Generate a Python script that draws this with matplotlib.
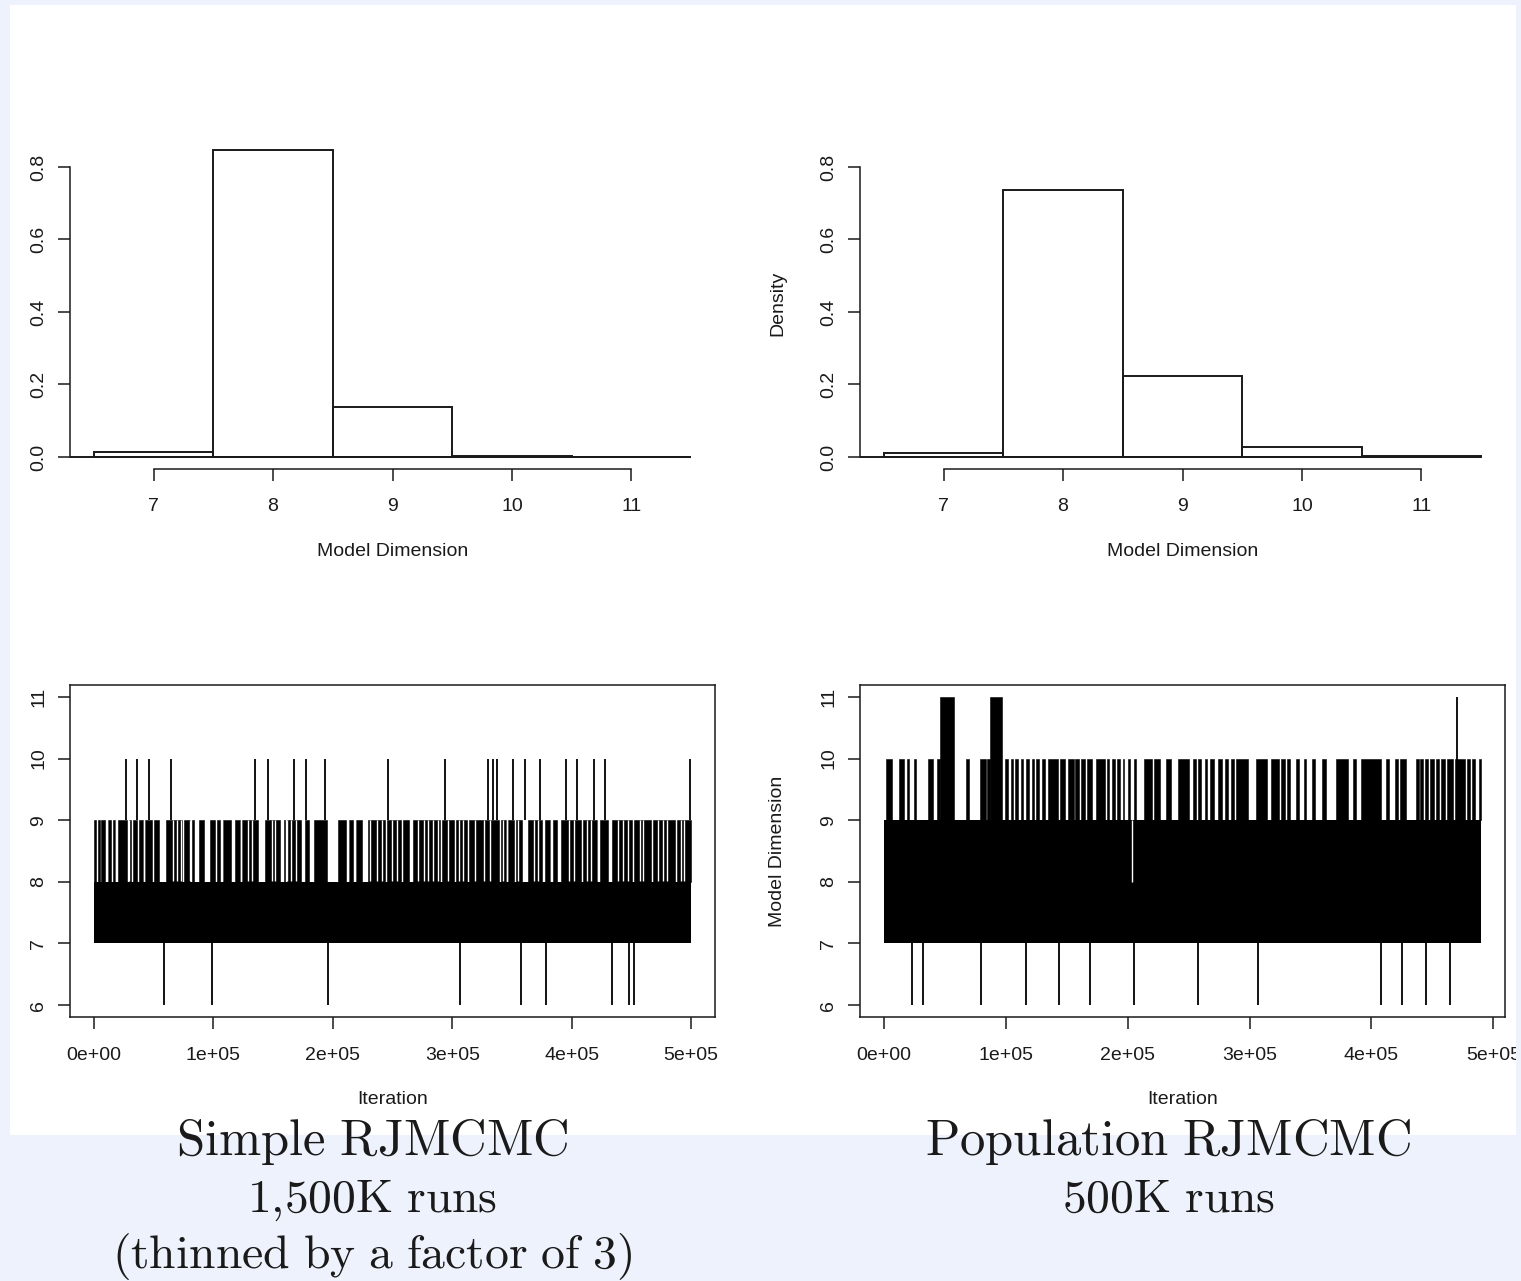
import numpy as np
import matplotlib.pyplot as plt
from matplotlib.patches import Rectangle

plt.rcParams['font.family'] = ['Liberation Sans', 'DejaVu Sans']
plt.rcParams['mathtext.fontset'] = 'cm'

# ---- values ----
dims = [7, 8, 9, 10, 11]
dens_simple = [0.015, 0.848, 0.137, 0.002, 0.0004]
dens_pop = [0.012, 0.737, 0.222, 0.027, 0.003]

x_ticks = [0, 100000, 200000, 300000, 400000, 500000]
x_ticklabels = ['0e+00', '1e+05', '2e+05', '3e+05', '4e+05', '5e+05']
y_ticks_trace = [6, 7, 8, 9, 10, 11]
y_ticks_hist = [0.0, 0.2, 0.4, 0.6, 0.8]

# simple RJMCMC trace, iterations in thousands
simple_end = 500
simple_base = (7, 8)          # chain flips between these all the time
simple_visits9 = [(0, 1.6), (3.2, 4.8), (5.8, 9.7), (12, 14), (16, 18), (20.5, 27.8),
                  (29, 31), (32.7, 36), (37.6, 40.9), (42.5, 49), (50.7, 54.6),
                  (60.5, 73.6), (75.2, 80.2), (81.8, 84), (88.3, 92.6), (97.2, 101.4),
                  (103, 105.7), (108, 114.5), (117.8, 122.7), (124.4, 137.5),
                  (143, 155.5), (158.8, 160.4), (162, 173.5), (176.8, 180),
                  (184.3, 195.4), (204.6, 211.2), (213.8, 217), (219.3, 224.3),
                  (229.2, 244), (245.5, 257), (258.6, 263.6), (266.8, 289.8),
                  (291.4, 301.2), (302.9, 312.7), (314.3, 338.9), (340.5, 345.4),
                  (347, 352), (353.6, 358.5), (363.4, 374.9), (377.5, 381.5),
                  (384, 388), (391.3, 407.6), (409.3, 420.8), (424, 430.6),
                  (433.9, 450.2), (451.9, 466.6), (468.2, 486.2), (487.9, 500)]
# thin white slivers inside the 8-9 band
simple_gaps89 = [10.7, 18.9, 29.4, 41.8, 66.4, 69.7, 72.9, 80.8, 86.7, 107, 123.4,
                 129.3, 132.6, 148.9, 151.5, 161.4, 165.3, 169.2, 182.3, 198.7,
                 212.8, 218.4, 226.9, 231.5, 237.4, 241.3, 249.8, 253.7, 271.7,
                 276, 279.9, 283.9, 288.1, 296.3, 305.5, 309.4, 319.2, 326.4,
                 331.7, 342.8, 346.1, 355.3, 368.4, 371.6, 383.1, 389.6, 397.8,
                 401.8, 412.6, 415.8, 422.4, 438.8, 443, 447, 456.8, 460.1, 472.5,
                 476.4, 479.7, 491.2, 494.4]
simple_spikes10 = [26.7, 35.9, 46.4, 64.4, 135.2, 146, 167.6, 177.4, 193.8, 246.6,
                   293.7, 329.7, 334, 337.3, 351.3, 360.8, 373.3, 394.9, 404.4,
                   418.5, 428, 499.4]
simple_spikes6 = [58.9, 98.6, 196.2, 306.5, 357.6, 378.6, 433.8, 448, 452.2]

# population RJMCMC trace, iterations in thousands
pop_end = 490
pop_base = (7, 9)
pop_visits10 = [(1.5, 6.3), (12.7, 16.9), (19.2, 20.8), (24.6, 26.5), (36.2, 40),
                (43.2, 45.8), (67.3, 69.6), (78.6, 83.4), (85, 87.2), (99.4, 102),
                (104.2, 105.8), (107.5, 109.7), (112.3, 113.9), (116.4, 118.7),
                (121.9, 123.5), (125.1, 127.4), (130, 132.5), (134.7, 142.8),
                (144.4, 148.6), (150.8, 155.6), (157.2, 160.4), (162, 165.2),
                (166.9, 171), (174.2, 181.3), (182.9, 184.5), (187.1, 189.3),
                (191.6, 193.5), (195.8, 197.4), (200.6, 202.2), (205.4, 207),
                (213.4, 219.8), (221.4, 226.3), (231.1, 235.9), (241.7, 250.3),
                (253.5, 255.8), (257.7, 260), (263.2, 265.4), (267.4, 271.2),
                (274.4, 277.6), (280.2, 282.5), (284.7, 287.3), (288.9, 298.5),
                (304.9, 314.6), (317.8, 324.2), (325.8, 329), (330.6, 332.9),
                (338, 340.2), (344.4, 346.7), (351.5, 354), (359.5, 362.7),
                (370.8, 380.4), (385.2, 387.5), (391.6, 407.7), (411.9, 414.1),
                (419.6, 422.1), (423.7, 428.5), (436.6, 438.8), (439.8, 442),
                (444, 446.2), (447.8, 451), (452.6, 455.8), (457.5, 460.7),
                (462.3, 467.1), (468.7, 476.7), (478.3, 480.6), (482.5, 484.8),
                (488, 489.5)]
pop_blocks11 = [(45.8, 57.7), (87.2, 96.5)]
pop_spikes11 = [470]
pop_spikes6 = [22.7, 32, 79.4, 116.3, 143.9, 169.1, 205.3, 258, 306.8, 408,
               425.5, 445, 464.7]
pop_gaps89 = [203.4]

captions_left = ['Simple RJMCMC', '1{,}500K runs', '(thinned by a factor of 3)']
captions_right = ['Population RJMCMC', '500K runs']

# ---- figure ----
W, H = 1521, 1281
bg = '#eef2fc'
ink = '#1a1a1a'
fs = 14
fig = plt.figure(figsize=(W / 100, H / 100), dpi=100)
fig.patch.set_facecolor(bg)
fig.add_artist(Rectangle((10 / W, 1 - 1135 / H), 1506 / W, 1130 / H,
                         transform=fig.transFigure, facecolor='white',
                         edgecolor='none', zorder=-1))


def px_axes(x0, y0, x1, y1):
    ax = fig.add_axes([x0 / W, 1 - y1 / H, (x1 - x0) / W, (y1 - y0) / H])
    ax.set_facecolor('none')
    return ax


def style(ax):
    ax.tick_params(direction='out', length=8.5, width=1.1, labelsize=fs,
                   color=ink, labelcolor=ink)
    ax.tick_params(axis='x', pad=12.5)
    ax.tick_params(axis='y', pad=8)


def labels(ax, xlabel, ylabel=None):
    ax.set_xlabel(xlabel, fontsize=fs, color=ink)
    ax.xaxis.set_label_coords(0.5, -82 / 332.8)
    ax.xaxis.label.set_va('center')
    if ylabel:
        ax.set_ylabel(ylabel, fontsize=fs, color=ink)
        ax.yaxis.set_label_coords(-82 / 645, 0.5)
        ax.yaxis.label.set_va('center')


def hist_panel(ax, dens, ylabel=None):
    edges = np.array(dims + [dims[-1] + 1]) - 0.5
    ax.bar(dims, dens, width=1.0, fill=False, edgecolor=ink, lw=1.4)
    ax.hlines(0, edges[0] - 0.3, edges[-1], color=ink, lw=1.4)
    pad = 0.04 * (edges[-1] - edges[0])
    ax.set_xlim(edges[0] - pad, edges[-1] + pad)
    ax.set_ylim(-0.04 * 0.85, 0.85 * 1.04)
    for s in ['top', 'right']:
        ax.spines[s].set_visible(False)
    ax.spines['left'].set_bounds(y_ticks_hist[0], y_ticks_hist[-1])
    ax.spines['bottom'].set_bounds(dims[0], dims[-1])
    for s in ['left', 'bottom']:
        ax.spines[s].set_linewidth(1.1)
        ax.spines[s].set_color(ink)
    ax.set_xticks(dims)
    ax.set_xticklabels([str(d) for d in dims])
    ax.set_yticks(y_ticks_hist)
    ax.set_yticklabels(['%.1f' % v for v in y_ticks_hist], rotation=90, va='center')
    style(ax)
    labels(ax, 'Model Dimension', ylabel)


def trace_axes(ax, end, ylabel=None):
    ax.set_xlim(-0.04 * end * 1e3, 1.04 * end * 1e3)
    ax.set_ylim(5.8, 11.2)
    ax.set_xticks(x_ticks)
    ax.set_xticklabels(x_ticklabels)
    ax.set_yticks(y_ticks_trace)
    ax.set_yticklabels([str(v) for v in y_ticks_trace], rotation=90, va='center')
    for s in ax.spines.values():
        s.set_linewidth(1.1)
        s.set_color(ink)
    style(ax)
    labels(ax, 'Iteration', ylabel)


def k(vals):
    return np.array(vals, dtype=float) * 1e3


def bars(intervals):
    return [(s * 1e3, (e - s) * 1e3) for s, e in intervals]


# top left histogram
ax1 = px_axes(70, 136.5, 715, 469.3)
hist_panel(ax1, dens_simple)

# top right histogram
ax2 = px_axes(860, 136.5, 1505, 469.3)
hist_panel(ax2, dens_pop, ylabel='Density')

# bottom left trace
ax3 = px_axes(70, 684.6, 715, 1017.4)
ax3.fill_between([0, simple_end * 1e3], simple_base[0], simple_base[1],
                 color='black', lw=0)
ax3.broken_barh(bars(simple_visits9), (8, 1), facecolors='black',
                edgecolor='black', lw=0.4)
ax3.vlines(k(simple_gaps89), 8.02, 9, color='white', lw=1.0)
ax3.vlines(k(simple_spikes10), 9, 10, color='black', lw=1.3)
ax3.vlines(k(simple_spikes6), 6, 7, color='black', lw=1.3)
trace_axes(ax3, simple_end)

# bottom right trace
ax4 = px_axes(860, 684.6, 1505, 1017.4)
ax4.fill_between([0, pop_end * 1e3], pop_base[0], pop_base[1], color='black', lw=0)
ax4.vlines(k(pop_gaps89), 8, 9, color='white', lw=1.0)
ax4.broken_barh(bars(pop_visits10), (9, 1), facecolors='black',
                edgecolor='black', lw=0.4)
ax4.broken_barh(bars(pop_blocks11), (9, 2), facecolors='black',
                edgecolor='black', lw=0.4)
ax4.vlines(k(pop_spikes11), 9, 11, color='black', lw=1.3)
ax4.vlines(k(pop_spikes6), 6, 7, color='black', lw=1.3)
trace_axes(ax4, pop_end, ylabel='Model Dimension')

# the slide crops the plots on the right edge
fig.add_artist(Rectangle((1516 / W, 0), (W - 1516) / W, 1,
                         transform=fig.transFigure, facecolor=bg,
                         edgecolor='none', zorder=5))


def tex(line):
    return r'$\mathrm{' + line.replace(' ', r'\ ') + '}$'


# captions (first line a touch larger, as on the slide)
cap_sizes = [36.5, 34.3, 34.3]
for i, line in enumerate(captions_left):
    fig.text(372.5 / W, 1 - (1155 + 56.5 * i) / H, tex(line),
             fontsize=cap_sizes[i], ha='center', va='baseline', color=ink, zorder=6)
for i, line in enumerate(captions_right):
    fig.text(1168.5 / W, 1 - (1155 + 56.5 * i) / H, tex(line),
             fontsize=cap_sizes[i], ha='center', va='baseline', color=ink, zorder=6)

fig.savefig('out.png', dpi=100, facecolor=bg)
